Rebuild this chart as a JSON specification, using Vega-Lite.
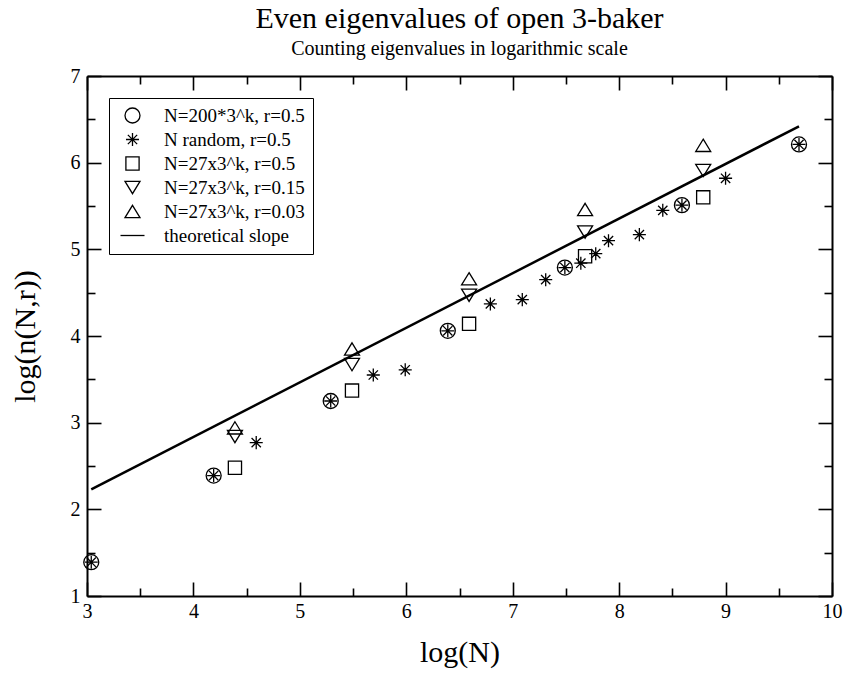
{
  "$schema": "https://vega.github.io/schema/vega-lite/v6.json",
  "autosize": {"type": "none"},
  "width": 745,
  "height": 520,
  "padding": {"left": 87, "top": 76, "right": 11, "bottom": 79},
  "background": "white",
  "title": {
    "text": "Even eigenvalues of open 3-baker",
    "subtitle": "Counting eigenvalues in logarithmic scale",
    "anchor": "middle",
    "frame": "group",
    "font": "Liberation Serif",
    "fontSize": 30,
    "fontWeight": "normal",
    "color": "black",
    "subtitleFont": "Liberation Serif",
    "subtitleFontSize": 20,
    "subtitleColor": "black",
    "subtitlePadding": 5,
    "offset": 7
  },
  "config": {
    "view": {"stroke": null},
    "axis": {
      "domainColor": "black",
      "domainWidth": 2,
      "tickColor": "black",
      "tickWidth": 1.6,
      "grid": false,
      "labelFont": "Liberation Serif",
      "labelFontSize": 20,
      "labelColor": "black",
      "titleFont": "Liberation Serif",
      "titleFontSize": 30,
      "titleFontWeight": "normal",
      "titleColor": "black"
    },
    "legend": {
      "labelFont": "Liberation Serif",
      "labelFontSize": 19,
      "labelColor": "black"
    }
  },
  "datasets": {
    "pts": [
      {"series": "N=200*3^k, r=0.5", "logN": 3.04, "logn": 1.39},
      {"series": "N=200*3^k, r=0.5", "logN": 4.19, "logn": 2.39},
      {"series": "N=200*3^k, r=0.5", "logN": 5.29, "logn": 3.25},
      {"series": "N=200*3^k, r=0.5", "logN": 6.39, "logn": 4.06},
      {"series": "N=200*3^k, r=0.5", "logN": 7.49, "logn": 4.79},
      {"series": "N=200*3^k, r=0.5", "logN": 8.59, "logn": 5.51},
      {"series": "N=200*3^k, r=0.5", "logN": 9.69, "logn": 6.21},
      {"series": "N random, r=0.5", "logN": 3.04, "logn": 1.39},
      {"series": "N random, r=0.5", "logN": 4.19, "logn": 2.39},
      {"series": "N random, r=0.5", "logN": 4.59, "logn": 2.77},
      {"series": "N random, r=0.5", "logN": 5.29, "logn": 3.25},
      {"series": "N random, r=0.5", "logN": 5.69, "logn": 3.55},
      {"series": "N random, r=0.5", "logN": 5.99, "logn": 3.61},
      {"series": "N random, r=0.5", "logN": 6.39, "logn": 4.06},
      {"series": "N random, r=0.5", "logN": 6.79, "logn": 4.37},
      {"series": "N random, r=0.5", "logN": 7.09, "logn": 4.42},
      {"series": "N random, r=0.5", "logN": 7.31, "logn": 4.65},
      {"series": "N random, r=0.5", "logN": 7.49, "logn": 4.79},
      {"series": "N random, r=0.5", "logN": 7.64, "logn": 4.84},
      {"series": "N random, r=0.5", "logN": 7.78, "logn": 4.95},
      {"series": "N random, r=0.5", "logN": 7.9, "logn": 5.1},
      {"series": "N random, r=0.5", "logN": 8.19, "logn": 5.17},
      {"series": "N random, r=0.5", "logN": 8.41, "logn": 5.45},
      {"series": "N random, r=0.5", "logN": 8.59, "logn": 5.51},
      {"series": "N random, r=0.5", "logN": 9.0, "logn": 5.82},
      {"series": "N random, r=0.5", "logN": 9.69, "logn": 6.21},
      {"series": "N=27x3^k, r=0.5", "logN": 4.39, "logn": 2.48},
      {"series": "N=27x3^k, r=0.5", "logN": 5.49, "logn": 3.37},
      {"series": "N=27x3^k, r=0.5", "logN": 6.59, "logn": 4.14},
      {"series": "N=27x3^k, r=0.5", "logN": 7.68, "logn": 4.92},
      {"series": "N=27x3^k, r=0.5", "logN": 8.79, "logn": 5.6},
      {"series": "N=27x3^k, r=0.15", "logN": 4.39, "logn": 2.84},
      {"series": "N=27x3^k, r=0.15", "logN": 5.49, "logn": 3.67},
      {"series": "N=27x3^k, r=0.15", "logN": 6.59, "logn": 4.47},
      {"series": "N=27x3^k, r=0.15", "logN": 7.68, "logn": 5.2},
      {"series": "N=27x3^k, r=0.15", "logN": 8.79, "logn": 5.91},
      {"series": "N=27x3^k, r=0.03", "logN": 4.39, "logn": 2.94},
      {"series": "N=27x3^k, r=0.03", "logN": 5.49, "logn": 3.85},
      {"series": "N=27x3^k, r=0.03", "logN": 6.59, "logn": 4.66},
      {"series": "N=27x3^k, r=0.03", "logN": 7.68, "logn": 5.46},
      {"series": "N=27x3^k, r=0.03", "logN": 8.79, "logn": 6.2}
    ],
    "slope": [
      {"series": "theoretical slope", "logN": 3.04, "logn": 2.23},
      {"series": "theoretical slope", "logN": 9.69, "logn": 6.42}
    ]
  },
  "layer": [
    {
      "data": {"name": "pts"},
      "mark": {"type": "point", "filled": false, "size": 225, "strokeWidth": 1.3, "color": "black", "opacity": 1},
      "encoding": {
        "x": {
          "field": "logN", "type": "quantitative",
          "scale": {"domain": [3, 10], "nice": false, "zero": false},
          "axis": {
            "orient": "bottom",
            "title": "log(N)",
            "values": [3, 3.5, 4, 4.5, 5, 5.5, 6, 6.5, 7, 7.5, 8, 8.5, 9, 9.5, 10],
            "labelExpr": "datum.value % 1 === 0 ? format(datum.value, 'd') : ''",
            "tickSize": {"condition": {"test": "datum.value % 1 === 0", "value": -14}, "value": -8},
            "labelPadding": 19,
            "titlePadding": 10,
            "labelFlush": false,
            "labelOverlap": false
          }
        },
        "y": {
          "field": "logn", "type": "quantitative",
          "scale": {"domain": [1, 7], "nice": false, "zero": false},
          "axis": {
            "orient": "left",
            "title": "log(n(N,r))",
            "values": [1, 1.5, 2, 2.5, 3, 3.5, 4, 4.5, 5, 5.5, 6, 6.5, 7],
            "labelExpr": "datum.value % 1 === 0 ? format(datum.value, 'd') : ''",
            "tickSize": {"condition": {"test": "datum.value % 1 === 0", "value": -14}, "value": -8},
            "labelPadding": 21,
            "titlePadding": 30,
            "labelFlush": false,
            "labelOverlap": false
          }
        },
        "shape": {
          "field": "series", "type": "nominal",
          "scale": {
            "domain": ["N=200*3^k, r=0.5", "N random, r=0.5", "N=27x3^k, r=0.5", "N=27x3^k, r=0.15", "N=27x3^k, r=0.03", "theoretical slope"],
            "range": [
              "circle",
              "M-0.87,0H0.87M0,-0.87V0.87M-0.62,-0.62L0.62,0.62M-0.62,0.62L0.62,-0.62",
              "M-0.88,-0.88H0.88V0.88H-0.88Z",
              "M-1,-0.82H1L0,0.82Z",
              "M0,-0.82L1,0.82H-1Z",
              "M-1.6,0H1.6"
            ]
          },
          "legend": {
            "title": null,
            "orient": "none",
            "legendX": 22,
            "legendY": 22,
            "strokeColor": "black",
            "fillColor": "white",
            "padding": 8,
            "symbolOffset": 6,
            "symbolSize": 225,
            "symbolStrokeWidth": 1.3,
            "symbolStrokeColor": "black",
            "symbolFillColor": "transparent",
            "labelOffset": 22,
            "rowPadding": 4,
            "labelLimit": 400
          }
        }
      }
    },
    {
      "data": {"name": "slope"},
      "mark": {"type": "line", "color": "black", "strokeWidth": 2.5},
      "encoding": {
        "x": {
          "field": "logN", "type": "quantitative",
          "axis": {
            "orient": "top",
            "title": null,
            "labels": false,
            "values": [3, 3.5, 4, 4.5, 5, 5.5, 6, 6.5, 7, 7.5, 8, 8.5, 9, 9.5, 10],
            "tickSize": {"condition": {"test": "datum.value % 1 === 0", "value": -14}, "value": -8}
          }
        },
        "y": {
          "field": "logn", "type": "quantitative",
          "axis": {
            "orient": "right",
            "title": null,
            "labels": false,
            "values": [1, 1.5, 2, 2.5, 3, 3.5, 4, 4.5, 5, 5.5, 6, 6.5, 7],
            "tickSize": {"condition": {"test": "datum.value % 1 === 0", "value": -14}, "value": -8}
          }
        }
      }
    }
  ],
  "resolve": {"axis": {"x": "independent", "y": "independent"}}
}
